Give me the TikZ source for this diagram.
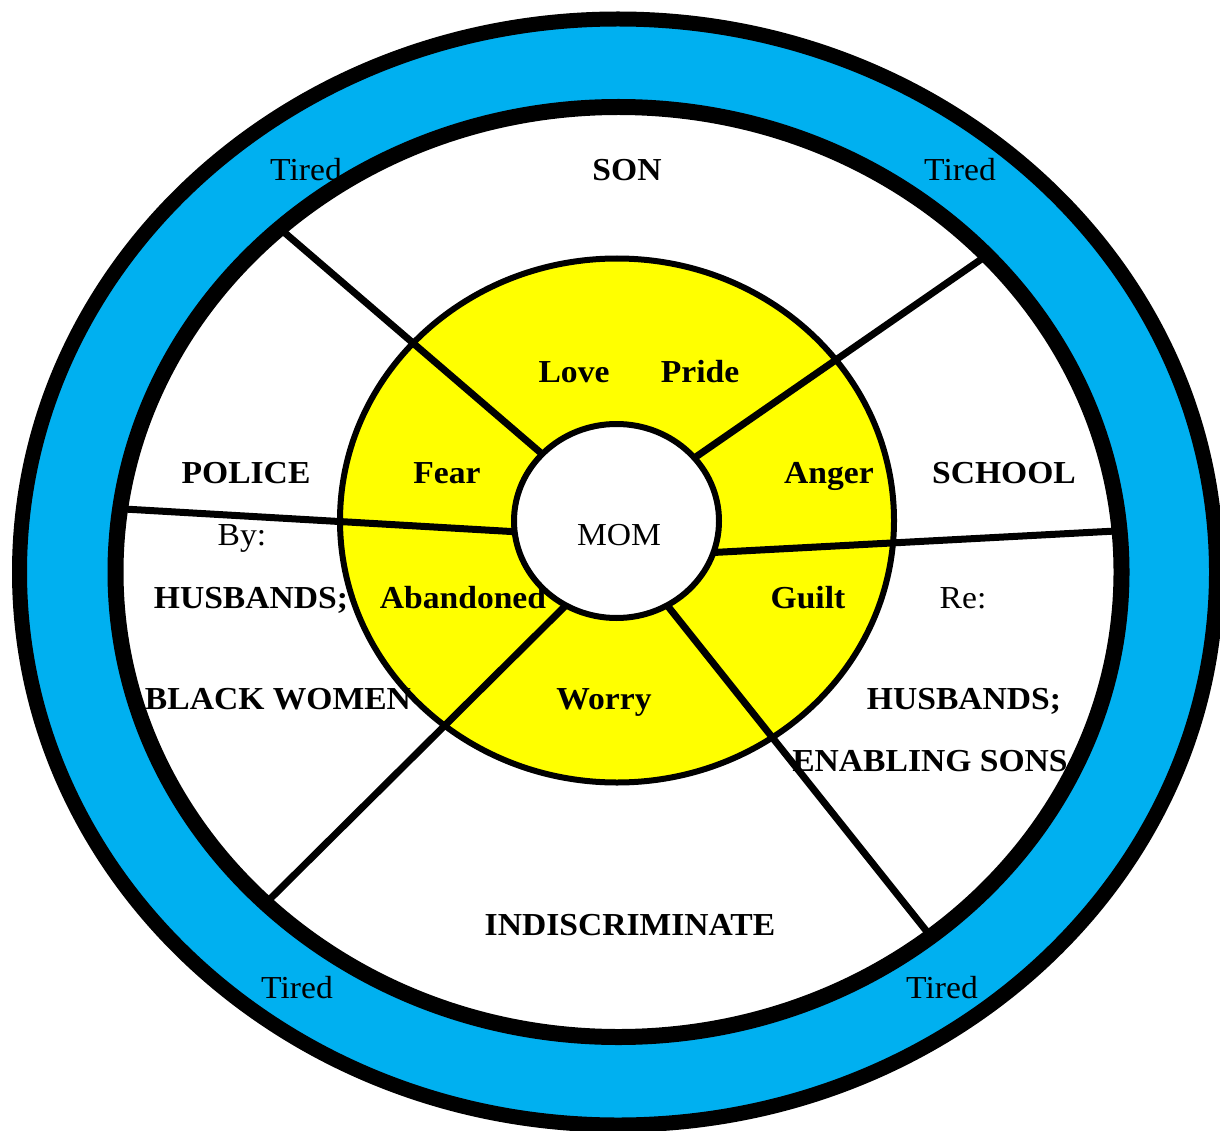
\documentclass[tikz,border=0pt]{standalone}
\usepackage{fontspec}
\setmainfont{Liberation Serif}[FakeStretch=1.05]
\usetikzlibrary{shapes.geometric}
\definecolor{rimblue}{RGB}{0,176,240}
\definecolor{feelyellow}{RGB}{255,255,0}

\begin{document}
\begin{tikzpicture}[
    x=1pt, y=-1pt,
    every node/.style={font=\fontsize{32}{38}\selectfont},
    note/.style={anchor=base},
    lbl/.style={anchor=base, font=\fontsize{32}{38}\selectfont\bfseries},
    ring/.style={ellipse, draw=black, line width=6pt, inner sep=0pt, outer sep=0pt},
    spoke/.style={line width=7pt, draw=black}
  ]
  \useasboundingbox (0,0) rectangle (1220,1131);
  % the two rims
  \draw[line width=15pt, fill=rimblue] (618,572) ellipse [x radius=598.5, y radius=553];
  \draw[line width=16pt, fill=white] (618.5,572) ellipse [x radius=503, y radius=465];
  \node[ring, fill=feelyellow, minimum width=554, minimum height=524] (feel) at (617,520.5) {};
  \node[ring, fill=white, minimum width=205, minimum height=194] (mom) at (616.5,521) {};
  % spoke ends on the inner rim
  \coordinate (r1) at (285,233);
  \coordinate (r2) at (983,258);
  \coordinate (r3) at (124,509);
  \coordinate (r4) at (1116,531);
  \coordinate (r5) at (269,900);
  \coordinate (r6) at (928,933);
  \draw[spoke] (mom.138.5) -- (r1);
  \draw[spoke] (mom.39) -- (r2);
  \draw[spoke] (mom.186) -- (r3);
  \draw[spoke] (mom.342) -- (r4);
  \draw[spoke] (mom.239.7) -- (r5);
  \draw[spoke] (mom.301.8) -- (r6);
  % labels
  \node[note] (tiredtl) at (306,181) {Tired};
  \node[note] (tiredtr) at (960,181) {Tired};
  \node[note] (tiredbl) at (297,998) {Tired};
  \node[note] (tiredbr) at (942,998) {Tired};
  \node[lbl] (son) at (627,181) {SON};
  \node[lbl] (love) at (574,382) {Love};
  \node[lbl] (pride) at (700,382) {Pride};
  \node[lbl] (police) at (246,483) {POLICE};
  \node[lbl] (fear) at (447,483) {Fear};
  \node[lbl] (anger) at (829,483) {Anger};
  \node[lbl] (school) at (1004,483) {SCHOOL};
  \node[note] (by) at (242,545) {By:};
  \node[note] (momtext) at (619,545) {MOM};
  \node[lbl] (husleft) at (251,608) {HUSBANDS;};
  \node[lbl] (aband) at (463,608) {Abandoned};
  \node[lbl] (guilt) at (808,608) {Guilt};
  \node[note] (re) at (963,608) {Re:};
  \node[lbl] (blackw) at (278,709) {BLACK WOMEN};
  \node[lbl] (worry) at (604,709) {Worry};
  \node[lbl] (husright) at (964,709) {HUSBANDS;};
  \node[lbl] (enabling) at (930,771) {ENABLING SONS};
  \node[lbl] (indis) at (630,935) {INDISCRIMINATE};
\end{tikzpicture}
\end{document}
